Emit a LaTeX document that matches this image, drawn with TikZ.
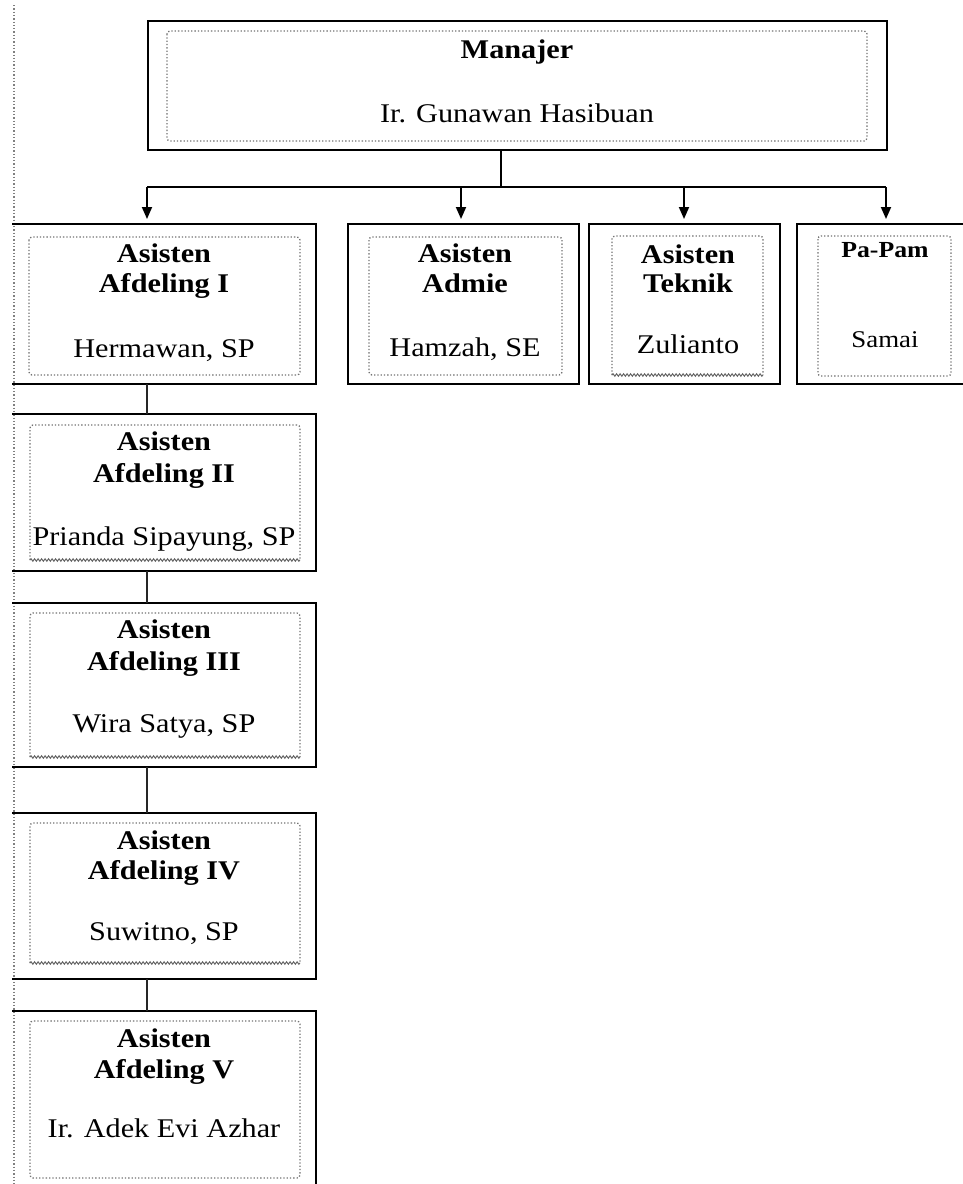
\documentclass[tikz,border=0pt]{standalone}
\usepackage{fontspec}
\setmainfont{Liberation Serif}[FakeStretch=1.12]
\usetikzlibrary{arrows.meta,decorations.pathmorphing}
\begin{document}
\begin{tikzpicture}[x=1pt,y=-1pt,
  boxline/.style={draw=black, line width=2.8pt, line join=miter},
  frame/.style={inner sep=0pt, outer sep=0pt},
  dotline/.style={draw=black!55, dotted, line width=1.3pt, rounded corners=3pt},
  wavy/.style={draw=black!60, line width=1pt, decorate, decoration={snake, amplitude=1.2pt, segment length=3.5pt}},
  ttl/.style={font=\fontsize{27}{30}\selectfont\bfseries, anchor=base, inner sep=0pt},
  nm/.style={font=\fontsize{27}{30}\selectfont, anchor=base, inner sep=0pt},
  ttlsm/.style={font=\fontsize{23}{26}\selectfont\bfseries, anchor=base, inner sep=0pt},
  nmsm/.style={font=\fontsize{24}{26}\selectfont, anchor=base, inner sep=0pt},
  link/.style={draw=black!85, line width=1.5pt},
  bus/.style={draw=black, line width=2pt},
  arr/.style={draw=black, line width=1.8pt, -{Triangle[length=12pt,width=10pt]}},
  sidedots/.style={draw=black!50, dotted, line width=1.3pt}
]
\useasboundingbox (0,0) rectangle (963,1184);
\clip (0,0) rectangle (963,1184);
\fill[white] (0,0) rectangle (963,1184);

% left dotted margin line
\coordinate (dtop) at (14,5);
\coordinate (dbot) at (14,1184);
\draw[sidedots] (dtop) -- (dbot);

% ---------- Manager ----------
\node[frame, boxline, minimum width=739pt, minimum height=129pt] (mgr) at (517.5,85.5) {};
\draw[dotline] (167,31) rectangle (867,141);
\node[ttl] (mgrT) at (517,58) {Manajer};
\node[nm]  (mgrN) at (517,122) {Ir. Gunawan Hasibuan};

% ---------- Row 2 ----------
\node[frame, minimum width=304pt, minimum height=160pt] (aI) at (164,304) {};
\draw[boxline] (aI.north west) -- (aI.north east) -- (aI.south east) -- (aI.south west);
\draw[dotline] (29,237) rectangle (300,375);
\node[ttl] at (164,262) {Asisten};
\node[ttl] at (164,292) {Afdeling I};
\node[nm]  at (164,357) {Hermawan, SP};

\node[frame, boxline, minimum width=231pt, minimum height=160pt] (adm) at (463.5,304) {};
\draw[dotline] (369,237) rectangle (562,375);
\node[ttl] at (465,262) {Asisten};
\node[ttl] at (465,292) {Admie};
\node[nm]  at (465,356) {Hamzah, SE};

\node[frame, boxline, minimum width=191pt, minimum height=160pt] (tek) at (684.5,304) {};
\draw[dotline] (612,375) -- (612,236) -- (763,236) -- (763,375);
\draw[wavy] (612,375) -- (763,375);
\node[ttl] at (688,263) {Asisten};
\node[ttl] at (688,292) {Teknik};
\node[nm]  at (688,353) {Zulianto};

\node[frame, boxline, minimum width=178pt, minimum height=160pt] (pam) at (886,304) {};
\draw[dotline] (818,236) rectangle (951,376);
\node[ttlsm] at (885,257) {Pa-Pam};
\node[nmsm]  at (885,347) {Samai};

% ---------- connectors from manager ----------
\coordinate (b1) at (147,187);
\coordinate (b2) at (461,187);
\coordinate (b3) at (684,187);
\coordinate (b4) at (886,187);
\coordinate (bm) at (501,187);
\draw[bus] (bm |- mgr.south) -- (bm);
\draw[bus] (b1) -- (b4);
\draw[arr] (b1) -- ([yshift=5pt]b1 |- aI.north);
\draw[arr] (b2) -- ([yshift=5pt]b2 |- adm.north);
\draw[arr] (b3) -- ([yshift=5pt]b3 |- tek.north);
\draw[arr] (b4) -- ([yshift=5pt]b4 |- pam.north);

% ---------- left column ----------
\node[frame, minimum width=304pt, minimum height=157pt] (aII) at (164,492.5) {};
\draw[boxline] (aII.north west) -- (aII.north east) -- (aII.south east) -- (aII.south west);
\draw[dotline] (30,560) -- (30,425) -- (300,425) -- (300,560);
\draw[wavy] (30,560) -- (300,560);
\node[ttl] at (164,450) {Asisten};
\node[ttl] at (164,482) {Afdeling II};
\node[nm]  at (164,545) {Prianda Sipayung, SP};

\node[frame, minimum width=304pt, minimum height=164pt] (aIII) at (164,685) {};
\draw[boxline] (aIII.north west) -- (aIII.north east) -- (aIII.south east) -- (aIII.south west);
\draw[dotline] (30,757) -- (30,613) -- (300,613) -- (300,757);
\draw[wavy] (30,757) -- (300,757);
\node[ttl] at (164,638) {Asisten};
\node[ttl] at (164,670) {Afdeling III};
\node[nm]  at (164,732) {Wira Satya, SP};

\node[frame, minimum width=304pt, minimum height=166pt] (aIV) at (164,896) {};
\draw[boxline] (aIV.north west) -- (aIV.north east) -- (aIV.south east) -- (aIV.south west);
\draw[dotline] (30,963) -- (30,823) -- (300,823) -- (300,963);
\draw[wavy] (30,963) -- (300,963);
\node[ttl] at (164,849) {Asisten};
\node[ttl] at (164,879) {Afdeling IV};
\node[nm]  at (164,940) {Suwitno, SP};

\node[frame, minimum width=304pt, minimum height=189pt] (aV) at (164,1105.5) {};
\draw[boxline] (aV.north west) -- (aV.north east) -- (aV.south east) -- (aV.south west);
\draw[dotline] (30,1021) rectangle (300,1178);
\node[ttl] at (164,1047) {Asisten};
\node[ttl] at (164,1078) {Afdeling V};
\node[nm]  at (164,1137) {Ir. Adek Evi Azhar};

\draw[link] (aI.south -| b1) -- (aII.north -| b1);
\draw[link] (aII.south -| b1) -- (aIII.north -| b1);
\draw[link] (aIII.south -| b1) -- (aIV.north -| b1);
\draw[link] (aIV.south -| b1) -- (aV.north -| b1);
\end{tikzpicture}
\end{document}
